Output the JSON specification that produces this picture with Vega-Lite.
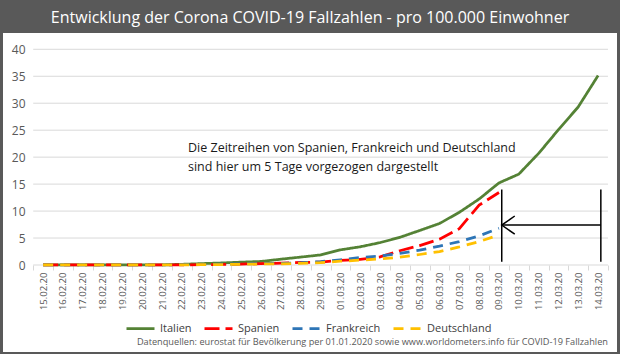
{
  "$schema": "https://vega.github.io/schema/vega-lite/v6.json",
  "width": 614,
  "height": 319,
  "autosize": "none",
  "padding": {"left": 3, "top": 33, "right": 3, "bottom": 2},
  "background": "#595959",
  "view": {"fill": "white", "stroke": null},
  "config": {"font": "Open Sans"},
  "title": {
    "text": "Entwicklung der Corona COVID-19 Fallzahlen - pro 100.000 Einwohner",
    "color": "#ffffff",
    "fontSize": 16,
    "fontWeight": "normal",
    "font": "Open Sans",
    "anchor": "middle",
    "frame": "group",
    "baseline": "alphabetic",
    "offset": 11,
    "dy": 17
  },
  "layer": [
    {
      "data": {"values": [
        {"a": "15.02.20", "b": "14.03.20", "g": 0},
        {"a": "15.02.20", "b": "14.03.20", "g": 5},
        {"a": "15.02.20", "b": "14.03.20", "g": 10},
        {"a": "15.02.20", "b": "14.03.20", "g": 15},
        {"a": "15.02.20", "b": "14.03.20", "g": 20},
        {"a": "15.02.20", "b": "14.03.20", "g": 25},
        {"a": "15.02.20", "b": "14.03.20", "g": 30},
        {"a": "15.02.20", "b": "14.03.20", "g": 35},
        {"a": "15.02.20", "b": "14.03.20", "g": 40}
      ]},
      "mark": {"type": "rule", "color": "#d9d9d9", "strokeWidth": 1},
      "encoding": {
        "x": {"field": "a", "type": "ordinal", "bandPosition": 0},
        "x2": {"field": "b", "bandPosition": 1},
        "y": {"field": "g", "type": "quantitative"}
      }
    },
    {
      "data": {"values": [
        {"d": "15.02.20", "l": "Italien", "v": 0.005},
        {"d": "16.02.20", "l": "Italien", "v": 0.005},
        {"d": "17.02.20", "l": "Italien", "v": 0.005},
        {"d": "18.02.20", "l": "Italien", "v": 0.005},
        {"d": "19.02.20", "l": "Italien", "v": 0.005},
        {"d": "20.02.20", "l": "Italien", "v": 0.005},
        {"d": "21.02.20", "l": "Italien", "v": 0.03},
        {"d": "22.02.20", "l": "Italien", "v": 0.13},
        {"d": "23.02.20", "l": "Italien", "v": 0.26},
        {"d": "24.02.20", "l": "Italien", "v": 0.38},
        {"d": "25.02.20", "l": "Italien", "v": 0.53},
        {"d": "26.02.20", "l": "Italien", "v": 0.66},
        {"d": "27.02.20", "l": "Italien", "v": 1.08},
        {"d": "28.02.20", "l": "Italien", "v": 1.47},
        {"d": "29.02.20", "l": "Italien", "v": 1.87},
        {"d": "01.03.20", "l": "Italien", "v": 2.81},
        {"d": "02.03.20", "l": "Italien", "v": 3.38},
        {"d": "03.03.20", "l": "Italien", "v": 4.15},
        {"d": "04.03.20", "l": "Italien", "v": 5.13},
        {"d": "05.03.20", "l": "Italien", "v": 6.4},
        {"d": "06.03.20", "l": "Italien", "v": 7.7},
        {"d": "07.03.20", "l": "Italien", "v": 9.77},
        {"d": "08.03.20", "l": "Italien", "v": 12.24},
        {"d": "09.03.20", "l": "Italien", "v": 15.22},
        {"d": "10.03.20", "l": "Italien", "v": 16.85},
        {"d": "11.03.20", "l": "Italien", "v": 20.69},
        {"d": "12.03.20", "l": "Italien", "v": 25.09},
        {"d": "13.03.20", "l": "Italien", "v": 29.32},
        {"d": "14.03.20", "l": "Italien", "v": 35.12},
        {"d": "15.02.20", "l": "Spanien", "v": 0.004},
        {"d": "16.02.20", "l": "Spanien", "v": 0.004},
        {"d": "17.02.20", "l": "Spanien", "v": 0.004},
        {"d": "18.02.20", "l": "Spanien", "v": 0.004},
        {"d": "19.02.20", "l": "Spanien", "v": 0.006},
        {"d": "20.02.20", "l": "Spanien", "v": 0.013},
        {"d": "21.02.20", "l": "Spanien", "v": 0.027},
        {"d": "22.02.20", "l": "Spanien", "v": 0.032},
        {"d": "23.02.20", "l": "Spanien", "v": 0.068},
        {"d": "24.02.20", "l": "Spanien", "v": 0.095},
        {"d": "25.02.20", "l": "Spanien", "v": 0.18},
        {"d": "26.02.20", "l": "Spanien", "v": 0.25},
        {"d": "27.02.20", "l": "Spanien", "v": 0.35},
        {"d": "28.02.20", "l": "Spanien", "v": 0.47},
        {"d": "29.02.20", "l": "Spanien", "v": 0.55},
        {"d": "01.03.20", "l": "Spanien", "v": 0.85},
        {"d": "02.03.20", "l": "Spanien", "v": 1.06},
        {"d": "03.03.20", "l": "Spanien", "v": 1.5},
        {"d": "04.03.20", "l": "Spanien", "v": 2.65},
        {"d": "05.03.20", "l": "Spanien", "v": 3.6},
        {"d": "06.03.20", "l": "Spanien", "v": 4.8},
        {"d": "07.03.20", "l": "Spanien", "v": 6.75},
        {"d": "08.03.20", "l": "Spanien", "v": 11.1},
        {"d": "09.03.20", "l": "Spanien", "v": 13.45},
        {"d": "15.02.20", "l": "Frankreich", "v": 0.018},
        {"d": "16.02.20", "l": "Frankreich", "v": 0.018},
        {"d": "17.02.20", "l": "Frankreich", "v": 0.018},
        {"d": "18.02.20", "l": "Frankreich", "v": 0.018},
        {"d": "19.02.20", "l": "Frankreich", "v": 0.018},
        {"d": "20.02.20", "l": "Frankreich", "v": 0.021},
        {"d": "21.02.20", "l": "Frankreich", "v": 0.027},
        {"d": "22.02.20", "l": "Frankreich", "v": 0.056},
        {"d": "23.02.20", "l": "Frankreich", "v": 0.085},
        {"d": "24.02.20", "l": "Frankreich", "v": 0.149},
        {"d": "25.02.20", "l": "Frankreich", "v": 0.193},
        {"d": "26.02.20", "l": "Frankreich", "v": 0.284},
        {"d": "27.02.20", "l": "Frankreich", "v": 0.315},
        {"d": "28.02.20", "l": "Frankreich", "v": 0.423},
        {"d": "29.02.20", "l": "Frankreich", "v": 0.628},
        {"d": "01.03.20", "l": "Frankreich", "v": 0.97},
        {"d": "02.03.20", "l": "Frankreich", "v": 1.38},
        {"d": "03.03.20", "l": "Frankreich", "v": 1.68},
        {"d": "04.03.20", "l": "Frankreich", "v": 2.15},
        {"d": "05.03.20", "l": "Frankreich", "v": 2.75},
        {"d": "06.03.20", "l": "Frankreich", "v": 3.5},
        {"d": "07.03.20", "l": "Frankreich", "v": 4.35},
        {"d": "08.03.20", "l": "Frankreich", "v": 5.4},
        {"d": "09.03.20", "l": "Frankreich", "v": 6.8},
        {"d": "15.02.20", "l": "Deutschland", "v": 0.019},
        {"d": "16.02.20", "l": "Deutschland", "v": 0.019},
        {"d": "17.02.20", "l": "Deutschland", "v": 0.019},
        {"d": "18.02.20", "l": "Deutschland", "v": 0.019},
        {"d": "19.02.20", "l": "Deutschland", "v": 0.019},
        {"d": "20.02.20", "l": "Deutschland", "v": 0.022},
        {"d": "21.02.20", "l": "Deutschland", "v": 0.025},
        {"d": "22.02.20", "l": "Deutschland", "v": 0.031},
        {"d": "23.02.20", "l": "Deutschland", "v": 0.064},
        {"d": "24.02.20", "l": "Deutschland", "v": 0.079},
        {"d": "25.02.20", "l": "Deutschland", "v": 0.14},
        {"d": "26.02.20", "l": "Deutschland", "v": 0.18},
        {"d": "27.02.20", "l": "Deutschland", "v": 0.23},
        {"d": "28.02.20", "l": "Deutschland", "v": 0.29},
        {"d": "29.02.20", "l": "Deutschland", "v": 0.42},
        {"d": "01.03.20", "l": "Deutschland", "v": 0.7},
        {"d": "02.03.20", "l": "Deutschland", "v": 0.9},
        {"d": "03.03.20", "l": "Deutschland", "v": 1.15},
        {"d": "04.03.20", "l": "Deutschland", "v": 1.45},
        {"d": "05.03.20", "l": "Deutschland", "v": 1.95},
        {"d": "06.03.20", "l": "Deutschland", "v": 2.5},
        {"d": "07.03.20", "l": "Deutschland", "v": 3.35},
        {"d": "08.03.20", "l": "Deutschland", "v": 4.35},
        {"d": "09.03.20", "l": "Deutschland", "v": 5.55}
      ]},
      "mark": {"type": "line", "strokeWidth": 2.75},
      "encoding": {
        "x": {
          "field": "d", "type": "ordinal",
          "scale": {
            "type": "band",
            "domain": ["15.02.20","16.02.20","17.02.20","18.02.20","19.02.20","20.02.20","21.02.20","22.02.20","23.02.20","24.02.20","25.02.20","26.02.20","27.02.20","28.02.20","29.02.20","01.03.20","02.03.20","03.03.20","04.03.20","05.03.20","06.03.20","07.03.20","08.03.20","09.03.20","10.03.20","11.03.20","12.03.20","13.03.20","14.03.20"],
            "paddingInner": 0, "paddingOuter": 0.99, "align": 0.77
          },
          "axis": {
            "title": null, "orient": "bottom", "offset": -87, "labelAngle": 270,
            "labelFontSize": 9.5, "labelColor": "#595959", "tickBand": "extent",
            "tickColor": "#d9d9d9", "tickSize": 5, "domain": false, "labelPadding": 2, "grid": false
          }
        },
        "y": {
          "field": "v", "type": "quantitative",
          "scale": {"domain": [-16.13, 43.02], "nice": false, "zero": false},
          "axis": {
            "title": null, "values": [0, 5, 10, 15, 20, 25, 30, 35, 40], "tickCount": 20, "offset": -22,
            "domain": false, "ticks": false, "tickSize": 0, "labelPadding": 0, "grid": false,
            "labelOverlap": false, "labelFontSize": 12, "labelColor": "#595959"
          }
        },
        "color": {
          "field": "l", "type": "nominal",
          "scale": {"domain": ["Italien", "Spanien", "Frankreich", "Deutschland"], "range": ["#548235", "#ff0000", "#2e75b6", "#ffc000"]},
          "legend": {"title": null, "orient": "none", "legendX": 122, "legendY": 280, "direction": "horizontal", "symbolType": "stroke", "symbolSize": 784, "symbolStrokeWidth": 2.75, "labelFontSize": 11, "labelColor": "#404040", "columnPadding": 7, "labelOffset": 4, "padding": 0}
        },
        "strokeDash": {
          "field": "l", "type": "nominal",
          "scale": {"domain": ["Italien", "Spanien", "Frankreich", "Deutschland"], "range": [[1, 0], [15, 6], [10, 7], [10, 7]]},
          "legend": {"title": null, "orient": "none", "legendX": 122, "legendY": 280, "direction": "horizontal", "symbolType": "stroke", "symbolSize": 784, "symbolStrokeWidth": 2.75, "labelFontSize": 11, "labelColor": "#404040", "columnPadding": 7, "labelOffset": 4, "padding": 0}
        }
      }
    },
    {
      "data": {"values": [
        {"d": "09.03.20", "y1": 0.6, "y2": 14.0},
        {"d": "14.03.20", "y1": 0.6, "y2": 14.0}
      ]},
      "mark": {"type": "rule", "color": "#000000", "strokeWidth": 1.5},
      "encoding": {
        "x": {"field": "d", "type": "ordinal", "bandPosition": 0.64},
        "y": {"field": "y1", "type": "quantitative"},
        "y2": {"field": "y2"}
      }
    },
    {
      "data": {"values": [
        {"d": "09.03.20", "v": 7.4},
        {"d": "14.03.20", "v": 7.4}
      ]},
      "mark": {"type": "line", "color": "#000000", "strokeWidth": 1.5},
      "encoding": {
        "x": {"field": "d", "type": "ordinal", "bandPosition": 0.64},
        "y": {"field": "v", "type": "quantitative"}
      }
    },
    {
      "data": {"values": [{"d": "09.03.20", "v": 7.4}]},
      "mark": {"type": "point", "shape": "M1,-0.7L0,0L1,0.7", "size": 676, "filled": false, "stroke": "#000000", "strokeWidth": 1.5, "opacity": 1},
      "encoding": {
        "x": {"field": "d", "type": "ordinal", "bandPosition": 0.64},
        "y": {"field": "v", "type": "quantitative"}
      }
    },
    {
      "data": {"values": [
        {"d": "22.02.20", "v": 21.64, "t": "Die Zeitreihen von Spanien, Frankreich und Deutschland"},
        {"d": "22.02.20", "v": 18.23, "t": "sind hier um 5 Tage vorgezogen dargestellt"}
      ]},
      "mark": {"type": "text", "align": "left", "baseline": "middle", "fontSize": 12.5, "color": "#1a1a1a"},
      "encoding": {
        "x": {"field": "d", "type": "ordinal", "bandPosition": 0.81},
        "y": {"field": "v", "type": "quantitative"},
        "text": {"field": "t"}
      }
    },
    {
      "data": {"values": [
        {"d": "14.03.20", "v": -14.28, "t": "Datenquellen: eurostat für Bevölkerung per 01.01.2020 sowie www.worldometers.info für COVID-19 Fallzahlen"}
      ]},
      "mark": {"type": "text", "align": "right", "baseline": "middle", "fontSize": 9.2, "color": "#595959"},
      "encoding": {
        "x": {"field": "d", "type": "ordinal", "bandPosition": 1},
        "y": {"field": "v", "type": "quantitative"},
        "text": {"field": "t"}
      }
    }
  ]
}
